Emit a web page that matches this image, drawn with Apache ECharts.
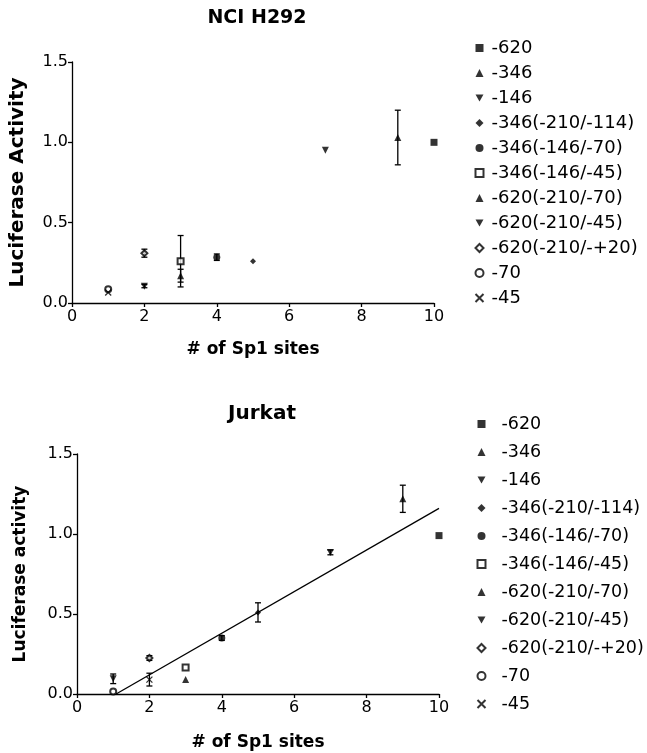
<!DOCTYPE html>
<html>
<head>
<meta charset="utf-8">
<script src="https://cdn.jsdelivr.net/npm/echarts@6/dist/echarts.min.js"></script>
<style>
  html, body { margin: 0; padding: 0; background: #fff; }
  #main { width: 647px; height: 753px; }
</style>
</head>
<body>
<div id="main"></div>
<script>
// 构建体名称（图例）
var constructs = ['-620', '-346', '-146', '-346(-210/-114)', '-346(-146/-70)', '-346(-146/-45)',
  '-620(-210/-70)', '-620(-210/-45)', '-620(-210/-+20)', '-70', '-45'];

// NCI H292
var h292Sites = [10, 9, 7, 5, 4, 3, 3, 2, 2, 1, 1];
var h292Values = [1.00, 1.03, 0.95, 0.26, 0.285, 0.26, 0.17, 0.105, 0.31, 0.085, 0.065];
var h292Err = [0, 0.17, 0, 0, 0.02, 0.16, 0.04, 0.01, 0.025, 0, 0];

// Jurkat
var jurkatSites = [10, 9, 7, 5, 4, 3, 3, 1, 2, 1, 2];
var jurkatValues = [0.99, 1.22, 0.885, 0.51, 0.35, 0.165, 0.09, 0.095, 0.225, 0.015, 0.09];
var jurkatErr = [0, 0.085, 0.015, 0.06, 0.015, 0, 0, 0.03, 0.015, 0, 0.04];

// Jurkat 回归线
var fitX = [1.08, 10];
var fitY = [0, 1.16];

var xTicks = [0, 2, 4, 6, 8, 10];
var yTicks = [0, 0.5, 1.0, 1.5];

// 标记样式
var markerShapes = ['rect', 'triangle', 'path://M0,0L10,0L5,9Z', 'diamond', 'circle', 'emptyRect',
  'triangle', 'path://M0,0L10,0L5,9Z', 'emptyDiamond', 'emptyCircle', 'path://M0,0L10,10M10,0L0,10'];
var markerSizes = [7, 7, 7, 6, 7, 6, 7, 7, 6, 6, 6];

var myChart = echarts.init(document.getElementById('main'));

function makeXAxis(idx) {
  return {
    type: 'value', gridIndex: idx, min: xTicks[0], max: xTicks[xTicks.length - 1], interval: 2,
    name: '# of Sp1 sites', nameLocation: 'middle', nameGap: idx === 0 ? 38 : 40,
    nameTextStyle: { fontFamily: 'DejaVu Sans', fontWeight: 'bold', fontSize: 17, color: '#000' },
    axisLine: { lineStyle: { color: '#000', width: 1.3 } },
    axisTick: { length: 4, lineStyle: { color: '#000', width: 1.3 } },
    axisLabel: { fontFamily: 'DejaVu Sans', fontSize: 16, color: '#000', margin: 6 },
    splitLine: { show: false }
  };
}

function makeYAxis(idx, name) {
  return {
    type: 'value', gridIndex: idx, min: yTicks[0], max: yTicks[yTicks.length - 1], interval: 0.5,
    name: name, nameLocation: 'middle', nameGap: idx === 0 ? 44 : 48,
    nameTextStyle: { fontFamily: 'DejaVu Sans', fontWeight: 'bold', fontSize: idx === 0 ? 20 : 17, color: '#000' },
    axisLine: { show: true, lineStyle: { color: '#000', width: 1.3 } },
    axisTick: { show: true, length: 4, lineStyle: { color: '#000', width: 1.3 } },
    axisLabel: { fontFamily: 'DejaVu Sans', fontSize: 16, color: '#000', margin: 4,
      formatter: function (v) { return v.toFixed(1); } },
    splitLine: { show: false }
  };
}

// 误差线
function errorRender(params, api) {
  var x = api.value(0), y = api.value(1), e = api.value(2);
  var top = api.coord([x, y + e]);
  var bot = api.coord([x, y - e]);
  var w = 3;
  var st = { stroke: '#000', lineWidth: 1.3 };
  return {
    type: 'group',
    children: [
      { type: 'line', shape: { x1: top[0], y1: top[1], x2: bot[0], y2: bot[1] }, style: st },
      { type: 'line', shape: { x1: top[0] - w, y1: top[1], x2: top[0] + w, y2: top[1] }, style: st },
      { type: 'line', shape: { x1: bot[0] - w, y1: bot[1], x2: bot[0] + w, y2: bot[1] }, style: st }
    ]
  };
}

function buildSeries(idx, sites, values, errs) {
  var list = [];
  constructs.forEach(function (name, i) {
    var isCross = markerShapes[i].indexOf('M0,0L10,10') > 0;
    list.push({
      name: name,
      type: 'scatter',
      xAxisIndex: idx,
      yAxisIndex: idx,
      symbol: markerShapes[i],
      symbolSize: markerSizes[i],
      itemStyle: isCross ? { color: 'none', borderColor: '#000', borderWidth: 1.3 } : { color: '#000' },
      z: 3,
      data: [[sites[i], values[i]]]
    });
  });
  var errData = [];
  sites.forEach(function (s, i) {
    if (errs[i] > 0) errData.push([s, values[i], errs[i]]);
  });
  list.push({
    type: 'custom',
    xAxisIndex: idx,
    yAxisIndex: idx,
    renderItem: errorRender,
    encode: { x: 0, y: 1 },
    silent: true,
    z: 2,
    data: errData
  });
  return list;
}

var series = buildSeries(0, h292Sites, h292Values, h292Err)
  .concat(buildSeries(1, jurkatSites, jurkatValues, jurkatErr));

series.push({
  type: 'line',
  xAxisIndex: 1,
  yAxisIndex: 1,
  showSymbol: false,
  silent: true,
  lineStyle: { color: '#000', width: 1.3 },
  data: fitX.map(function (x, i) { return [x, fitY[i]]; })
});

function makeLegend(left, top, gap, size, pad) {
  return {
    data: constructs,
    orient: 'vertical',
    left: left,
    top: top,
    itemWidth: 8,
    itemHeight: 8,
    itemGap: gap,
    selectedMode: false,
    textStyle: { fontFamily: 'DejaVu Sans', fontSize: size, color: '#000', lineHeight: 17, padding: [0, 0, 0, pad] }
  };
}

var option = {
  backgroundColor: '#fff',
  animation: false,
  title: [
    { text: 'NCI H292', left: 252, top: 4, textAlign: 'center',
      textStyle: { fontFamily: 'DejaVu Sans', fontWeight: 'bold', fontSize: 19, color: '#000' } },
    { text: 'Jurkat', left: 257, top: 399, textAlign: 'center',
      textStyle: { fontFamily: 'DejaVu Sans', fontWeight: 'bold', fontSize: 20, color: '#000' } }
  ],
  legend: [makeLegend(468, 34, 7, 18, 3), makeLegend(470, 410, 10, 17.5, 11)],
  grid: [
    { left: 71, width: 363, top: 62, height: 241 },
    { left: 77, width: 362, top: 454, height: 240 }
  ],
  xAxis: [makeXAxis(0), makeXAxis(1)],
  yAxis: [makeYAxis(0, 'Luciferase Activity'), makeYAxis(1, 'Luciferase activity')],
  series: series
};

myChart.setOption(option);
</script>
</body>
</html>
